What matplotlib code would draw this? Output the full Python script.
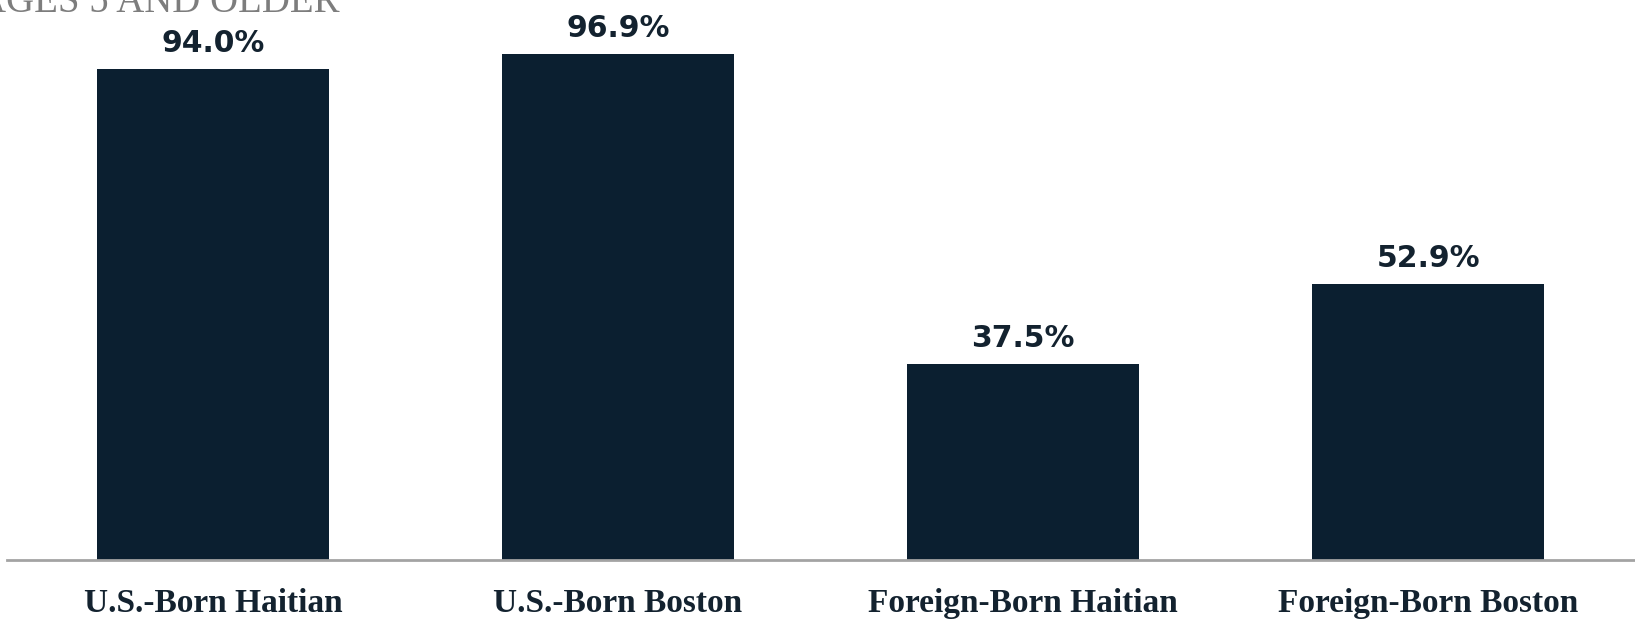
import matplotlib
matplotlib.use("Agg")
import matplotlib.pyplot as plt

categories = ["U.S.-Born Haitian", "U.S.-Born Boston",
              "Foreign-Born Haitian", "Foreign-Born Boston"]
values = [94.0, 96.9, 37.5, 52.9]
value_labels = ["94.0%", "96.9%", "37.5%", "52.9%"]

BAR = "#0b1f30"
TEXT = "#13222f"

fig = plt.figure(figsize=(16.35, 6.2), dpi=100)
ax = fig.add_axes([0.0043, 0.0968, 0.9957, 0.8419])

x = range(len(categories))
ax.bar(x, values, width=0.572, color=BAR)

for xi, v, lab in zip(x, values, value_labels):
    ax.annotate(lab, (xi, v), xytext=(0, 8), textcoords="offset points",
                ha="center", va="bottom", fontsize=21.5, fontweight="bold",
                color=TEXT, family="DejaVu Sans")

ax.set_xlim(-0.508, 3.51)
ax.set_ylim(0, 100)
ax.set_xticks(list(x))
ax.set_xticklabels(categories, fontsize=24, fontweight="bold",
                   family="Liberation Serif", color=TEXT)
ax.tick_params(axis="x", length=0, pad=20)
ax.set_yticks([])
for side in ["top", "right", "left"]:
    ax.spines[side].set_visible(False)
ax.spines["bottom"].set_color("#a3a3a3")
ax.spines["bottom"].set_linewidth(2)

# subtitle cut off at the top edge, as in the source image
fig.text(340 / 1635, 1 - 12 / 620, "AGES 5 AND OLDER", ha="right", va="baseline",
         fontsize=28, family="Liberation Serif", color="#7d7d7d")

fig.savefig("out.png", dpi=100)
